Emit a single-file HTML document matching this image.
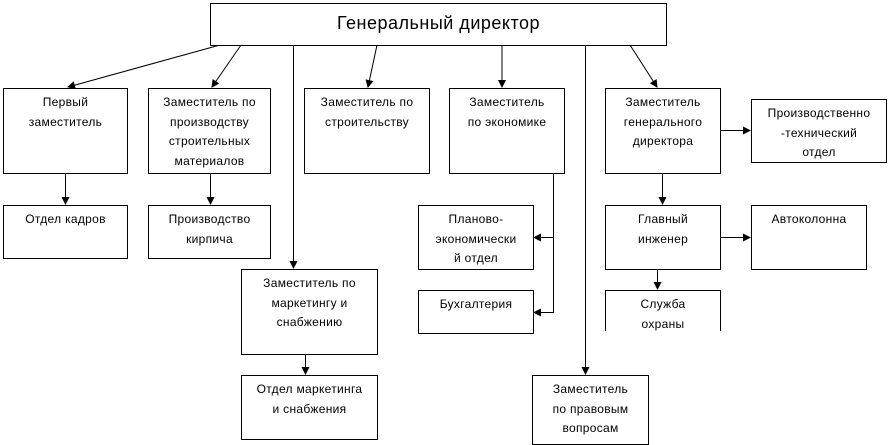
<!DOCTYPE html>
<html><head><meta charset="utf-8"><style>
body{margin:0;width:889px;height:442px;background:#fff;position:relative;overflow:hidden;font-family:"Liberation Sans","DejaVu Sans",sans-serif;}
.b{position:absolute;border:1px solid #000;box-sizing:border-box;background:#fff;overflow:hidden;text-align:center;font-size:12px;line-height:19.5px;padding-top:4px;letter-spacing:0.3px;color:#000}
svg{position:absolute;left:0;top:0}
</style></head><body>
<svg width="889" height="442">
<defs><marker id="a" markerWidth="8" markerHeight="8" refX="7" refY="4" orient="auto" markerUnits="userSpaceOnUse"><path d="M0,0 L8,4 L0,8 z" fill="#000"/></marker></defs>
<g stroke="#000" stroke-width="1" fill="none">
<line x1="220" y1="45" x2="68" y2="87" marker-end="url(#a)"/>
<line x1="241" y1="45" x2="212" y2="87" marker-end="url(#a)"/>
<line x1="377" y1="45" x2="368" y2="87" marker-end="url(#a)"/>
<line x1="502" y1="45" x2="502" y2="87" marker-end="url(#a)"/>
<line x1="630" y1="45" x2="657" y2="87" marker-end="url(#a)"/>
<line x1="293.5" y1="45" x2="293.5" y2="268" marker-end="url(#a)"/>
<line x1="585.5" y1="45" x2="585.5" y2="374" marker-end="url(#a)"/>
<line x1="65.5" y1="173" x2="65.5" y2="204" marker-end="url(#a)"/>
<line x1="210.5" y1="173" x2="210.5" y2="204" marker-end="url(#a)"/>
<line x1="305.5" y1="354" x2="305.5" y2="374" marker-end="url(#a)"/>
<line x1="662.5" y1="173" x2="662.5" y2="204" marker-end="url(#a)"/>
<line x1="657.5" y1="269" x2="657.5" y2="289" marker-end="url(#a)"/>
<line x1="720" y1="130.5" x2="750" y2="130.5" marker-end="url(#a)"/>
<line x1="720" y1="237.5" x2="750" y2="237.5" marker-end="url(#a)"/>
<polyline points="553.5,173 553.5,312.5 534,312.5" marker-end="url(#a)"/>
<line x1="553.5" y1="237.5" x2="534" y2="237.5" marker-end="url(#a)"/>
</g></svg>
<div class="b" style="left:210px;top:3px;width:457px;height:43px;font-size:18px;line-height:38px;padding-top:0;letter-spacing:0.5px">Генеральный директор</div>
<div class="b" style="left:3px;top:88px;width:125px;height:86px">Первый<br>заместитель</div>
<div class="b" style="left:148px;top:88px;width:123px;height:86px">Заместитель по<br>производству<br>строительных<br>материалов</div>
<div class="b" style="left:304px;top:88px;width:126px;height:86px">Заместитель по<br>строительству</div>
<div class="b" style="left:449px;top:88px;width:116px;height:86px">Заместитель<br>по экономике</div>
<div class="b" style="left:605px;top:88px;width:116px;height:86px">Заместитель<br>генерального<br>директора</div>
<div class="b" style="left:751px;top:99px;width:136px;height:64px">Производственно<br>-технический<br>отдел</div>
<div class="b" style="left:3px;top:205px;width:125px;height:54px">Отдел кадров</div>
<div class="b" style="left:148px;top:205px;width:123px;height:54px">Производство<br>кирпича</div>
<div class="b" style="left:418px;top:205px;width:116px;height:65px">Планово-<br>экономически<br>й отдел</div>
<div class="b" style="left:418px;top:290px;width:116px;height:44px">Бухгалтерия</div>
<div class="b" style="left:605px;top:205px;width:116px;height:65px">Главный<br>инженер</div>
<div class="b" style="left:751px;top:205px;width:116px;height:65px">Автоколонна</div>
<div class="b" style="left:605px;top:290px;width:116px;height:41px;border-bottom:none">Служба<br>охраны</div>
<div class="b" style="left:241px;top:269px;width:137px;height:86px">Заместитель по<br>маркетингу и<br>снабжению</div>
<div class="b" style="left:241px;top:375px;width:137px;height:65px">Отдел маркетинга<br>и снабжения</div>
<div class="b" style="left:532px;top:375px;width:117px;height:70px">Заместитель<br>по правовым<br>вопросам</div>
</body></html>
